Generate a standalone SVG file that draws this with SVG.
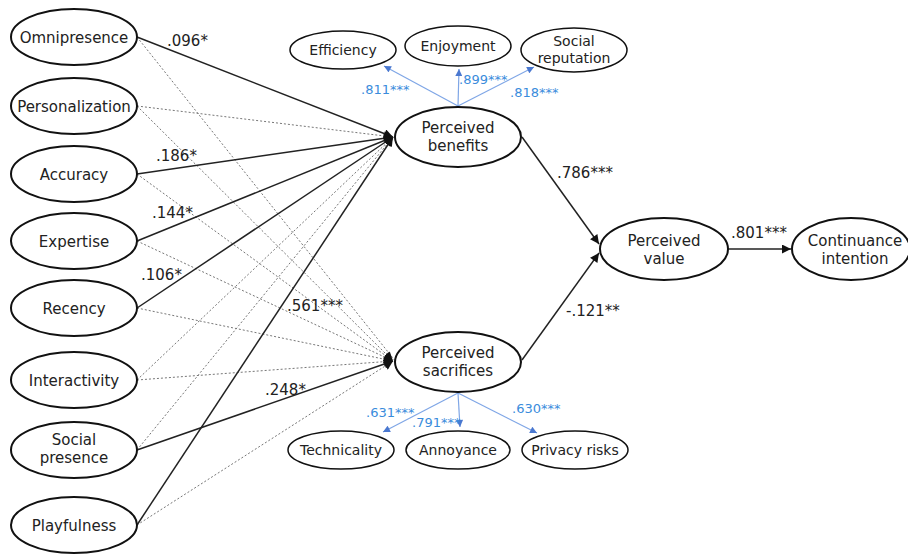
<svg xmlns="http://www.w3.org/2000/svg" width="908" height="554" viewBox="0 0 908 554">
<defs>
<marker id="ah" viewBox="0 0 10 10" refX="10" refY="5" markerWidth="10" markerHeight="9" markerUnits="userSpaceOnUse" orient="auto"><path d="M0,0 L10,5 L0,10 z" fill="#111"/></marker>
<marker id="bh" viewBox="0 0 10 10" refX="10" refY="5" markerWidth="8" markerHeight="7" markerUnits="userSpaceOnUse" orient="auto"><path d="M0,0 L10,5 L0,10 z" fill="#4a78d0"/></marker>
</defs>
<style>
text{font-family:"DejaVu Sans","Noto Sans",sans-serif;fill:#222;text-anchor:middle}
.big{font-size:15px}
.big2{font-size:15px}
.sm{font-size:14px}
.coef{font-size:15px;text-anchor:start}
.blue{font-size:13px;fill:#3a8cdc;text-anchor:start}
.el{fill:#fff;stroke:#111;stroke-width:2}
.el2{fill:#fff;stroke:#111;stroke-width:1.5}
.sol{stroke:#222;stroke-width:1.5;fill:none;marker-end:url(#ah)}
.dot{stroke:#777;stroke-width:1;stroke-dasharray:2 2;fill:none;marker-end:url(#ah)}
.bl{stroke:#7fa6e6;stroke-width:1.2;fill:none;marker-end:url(#bh)}
</style>
<rect width="908" height="554" fill="#fff"/>
<g id="connectors">
<line class="dot" x1="137" y1="106" x2="393" y2="137"/>
<line class="dot" x1="137" y1="380" x2="393" y2="137"/>
<line class="dot" x1="137" y1="450" x2="393" y2="137"/>
<line class="dot" x1="137" y1="37" x2="404" y2="372"/>
<line class="dot" x1="137" y1="106" x2="393" y2="361"/>
<line class="dot" x1="137" y1="174" x2="393" y2="361"/>
<line class="dot" x1="137" y1="241" x2="393" y2="361"/>
<line class="dot" x1="137" y1="308" x2="393" y2="361"/>
<line class="dot" x1="137" y1="380" x2="393" y2="361"/>
<line class="dot" x1="137" y1="525" x2="393" y2="361"/>
<line class="sol" x1="137" y1="37" x2="393" y2="137"/>
<line class="sol" x1="137" y1="174" x2="393" y2="137"/>
<line class="sol" x1="137" y1="241" x2="393" y2="137"/>
<line class="sol" x1="137" y1="308" x2="393" y2="137"/>
<line class="sol" x1="137" y1="525" x2="393" y2="137"/>
<line class="sol" x1="137" y1="450" x2="393" y2="361"/>
<line class="sol" x1="522" y1="137" x2="599" y2="244"/>
<line class="sol" x1="522" y1="360" x2="599" y2="253"/>
<line class="sol" x1="728" y1="249" x2="791" y2="249"/>
<line class="bl" x1="458" y1="106" x2="384" y2="66"/>
<line class="bl" x1="458" y1="106" x2="459" y2="69"/>
<line class="bl" x1="458" y1="106" x2="534" y2="67"/>
<line class="bl" x1="458" y1="393" x2="383" y2="432"/>
<line class="bl" x1="458" y1="393" x2="460" y2="427"/>
<line class="bl" x1="458" y1="393" x2="537" y2="433"/>
<text class="coef" x="167" y="46">.096*</text>
<text class="coef" x="156" y="161">.186*</text>
<text class="coef" x="152" y="218">.144*</text>
<text class="coef" x="141" y="280">.106*</text>
<text class="coef" x="287" y="311">.561***</text>
<text class="coef" x="265" y="395">.248*</text>
<text class="coef" x="557" y="178">.786***</text>
<text class="coef" x="566" y="316">-.121**</text>
<text class="coef" x="731" y="238">.801***</text>
<text class="blue" x="361" y="94">.811***</text>
<text class="blue" x="459" y="84">.899***</text>
<text class="blue" x="510" y="97">.818***</text>
<text class="blue" x="366" y="417">.631***</text>
<text class="blue" x="412" y="427">.791***</text>
<text class="blue" x="512" y="413">.630***</text>
</g>
<g id="omnipresence"><ellipse class="el" cx="74" cy="37" rx="63" ry="28"/><text class="big" x="74" y="42.5">Omnipresence</text></g>
<g id="personalization"><ellipse class="el" cx="74" cy="106" rx="63" ry="28"/><text class="big" x="74" y="111.5">Personalization</text></g>
<g id="accuracy"><ellipse class="el" cx="74" cy="174" rx="63" ry="28"/><text class="big" x="74" y="179.5">Accuracy</text></g>
<g id="expertise"><ellipse class="el" cx="74" cy="241" rx="63" ry="28"/><text class="big" x="74" y="246.5">Expertise</text></g>
<g id="recency"><ellipse class="el" cx="74" cy="308" rx="63" ry="28"/><text class="big" x="74" y="313.5">Recency</text></g>
<g id="interactivity"><ellipse class="el" cx="74" cy="380" rx="63" ry="28"/><text class="big" x="74" y="385.5">Interactivity</text></g>
<g id="social-presence"><ellipse class="el" cx="74" cy="450" rx="63" ry="28"/><text class="big2" x="74" y="445">Social</text><text class="big2" x="74" y="463">presence</text></g>
<g id="playfulness"><ellipse class="el" cx="74" cy="525" rx="63" ry="28"/><text class="big" x="74" y="530.5">Playfulness</text></g>
<g id="efficiency"><ellipse class="el2" cx="343" cy="50" rx="53" ry="19"/><text class="sm" x="343" y="55">Efficiency</text></g>
<g id="enjoyment"><ellipse class="el2" cx="458" cy="46" rx="53" ry="20"/><text class="sm" x="458" y="51">Enjoyment</text></g>
<g id="social-reputation"><ellipse class="el2" cx="574" cy="50" rx="53" ry="22"/><text class="sm" x="574" y="46">Social</text><text class="sm" x="574" y="62.5">reputation</text></g>
<g id="perceived-benefits"><ellipse class="el" cx="458" cy="137" rx="63" ry="30"/><text class="big2" x="458" y="133">Perceived</text><text class="big2" x="458" y="151">benefits</text></g>
<g id="perceived-sacrifices"><ellipse class="el" cx="458" cy="362" rx="63" ry="30"/><text class="big2" x="458" y="358">Perceived</text><text class="big2" x="458" y="376">sacrifices</text></g>
<g id="technicality"><ellipse class="el2" cx="341" cy="450" rx="53" ry="19"/><text class="sm" x="341" y="455">Technicality</text></g>
<g id="annoyance"><ellipse class="el2" cx="458" cy="450" rx="52" ry="19"/><text class="sm" x="458" y="455">Annoyance</text></g>
<g id="privacy-risks"><ellipse class="el2" cx="575" cy="450" rx="53" ry="19"/><text class="sm" x="575" y="455">Privacy risks</text></g>
<g id="perceived-value"><ellipse class="el" cx="664" cy="249" rx="64" ry="31"/><text class="big2" x="664" y="246">Perceived</text><text class="big2" x="664" y="264">value</text></g>
<g id="continuance-intention"><ellipse class="el" cx="851" cy="249" rx="59" ry="31"/><text class="big2" x="855" y="246">Continuance</text><text class="big2" x="855" y="264">intention</text></g>
</svg>
